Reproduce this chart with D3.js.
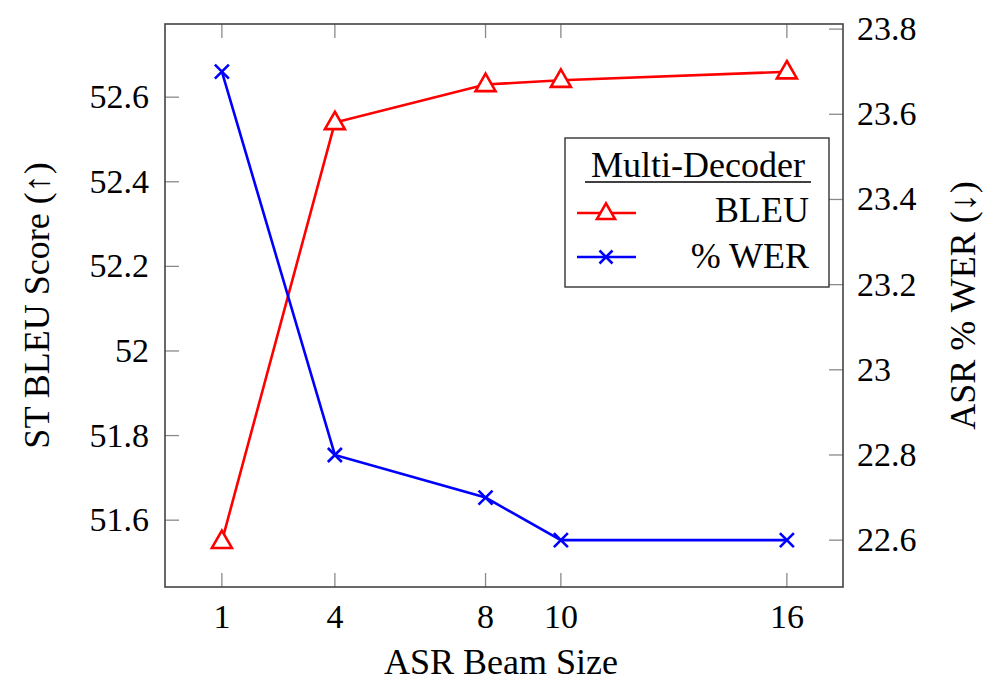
<!DOCTYPE html>
<html>
<head>
<meta charset="utf-8">
<script src="https://cdn.jsdelivr.net/npm/d3@7"></script>
</head>
<body style="margin:0">
<svg id="chart" width="987" height="681"></svg>
<script>
// Beam sizes and results
const beamSizes = [1, 4, 8, 10, 16];
const bleuScores = [51.55, 52.54, 52.63, 52.64, 52.66];
const werScores = [23.7, 22.8, 22.7, 22.6, 22.6];
const leftTicks = [51.6, 51.8, 52.0, 52.2, 52.4, 52.6];
const rightTicks = [22.6, 22.8, 23.0, 23.2, 23.4, 23.6, 23.8];
const leftTickLabels = ["51.6", "51.8", "52", "52.2", "52.4", "52.6"];
const rightTickLabels = ["22.6", "22.8", "23", "23.2", "23.4", "23.6", "23.8"];
const seriesNames = ["BLEU", "% WER"];

const FONT = '"Liberation Serif"';

const svg = d3.select("#chart");
const box = { left: 165, right: 843, top: 24, bottom: 587 };

const x = d3.scaleLinear().domain([-0.51, 17.49]).range([box.left, box.right]);
const yL = d3.scaleLinear().domain([51.442, 52.773]).range([box.bottom, box.top]);
const yR = d3.scaleLinear().domain([22.49, 23.812]).range([box.bottom, box.top]);

const tickColor = "#8a8a8a";
const tickLen = 14;
const tickFont = 34;
const labelFont = 36;

const txt = (parent, size) => parent.append("text")
  .style("font-family", FONT).attr("font-size", size).attr("fill", "#000");

// Ticks (drawn inward, x ticks mirrored on top)
const g = svg.append("g");
beamSizes.forEach(v => {
  g.append("line").attr("x1", x(v)).attr("x2", x(v))
    .attr("y1", box.bottom).attr("y2", box.bottom - tickLen)
    .attr("stroke", tickColor).attr("stroke-width", 1.3);
  g.append("line").attr("x1", x(v)).attr("x2", x(v))
    .attr("y1", box.top).attr("y2", box.top + tickLen)
    .attr("stroke", tickColor).attr("stroke-width", 1.3);
  txt(g, tickFont).attr("x", x(v)).attr("y", 628)
    .attr("text-anchor", "middle").text(v);
});
leftTicks.forEach((v, i) => {
  g.append("line").attr("x1", box.left).attr("x2", box.left + tickLen)
    .attr("y1", yL(v)).attr("y2", yL(v))
    .attr("stroke", tickColor).attr("stroke-width", 1.3);
  txt(g, tickFont).attr("x", 149).attr("y", yL(v) + 11)
    .attr("text-anchor", "end").text(leftTickLabels[i]);
});
rightTicks.forEach((v, i) => {
  g.append("line").attr("x1", box.right).attr("x2", box.right - tickLen)
    .attr("y1", yR(v)).attr("y2", yR(v))
    .attr("stroke", tickColor).attr("stroke-width", 1.3);
  txt(g, tickFont).attr("x", 857).attr("y", yR(v) + 11)
    .attr("text-anchor", "start").text(rightTickLabels[i]);
});

// Frame
svg.append("rect")
  .attr("x", box.left).attr("y", box.top)
  .attr("width", box.right - box.left).attr("height", box.bottom - box.top)
  .attr("fill", "none").attr("stroke", "#444").attr("stroke-width", 1.6);

// Axis titles
txt(svg, labelFont).attr("x", 501).attr("y", 674)
  .attr("text-anchor", "middle").text("ASR Beam Size");
txt(svg, labelFont).attr("transform", `translate(49,${(box.top + box.bottom) / 2}) rotate(-90)`)
  .attr("text-anchor", "middle").text("ST BLEU Score (↑)");
txt(svg, labelFont).attr("transform", `translate(975,${(box.top + box.bottom) / 2}) rotate(-90)`)
  .attr("text-anchor", "middle").text("ASR % WER (↓)");

// Marker shapes
const triPath = (cx, cy, s) => {
  const h = s * 0.87;
  return `M${cx},${cy - h * 0.62} L${cx + s / 2},${cy + h * 0.38} L${cx - s / 2},${cy + h * 0.38} Z`;
};
const crossPath = (cx, cy, r) =>
  `M${cx - r},${cy - r} L${cx + r},${cy + r} M${cx - r},${cy + r} L${cx + r},${cy - r}`;

const red = "#ff0000", blue = "#0000ff";

// BLEU series (left axis)
const bleuData = beamSizes.map((b, i) => [b, bleuScores[i]]);
svg.append("path").datum(bleuData)
  .attr("d", d3.line().x(d => x(d[0])).y(d => yL(d[1])))
  .attr("fill", "none").attr("stroke", red).attr("stroke-width", 2.6);
svg.selectAll(".tri").data(bleuData).join("path").attr("class", "tri")
  .attr("d", d => triPath(x(d[0]), yL(d[1]), 20))
  .attr("fill", "#fff").attr("stroke", red).attr("stroke-width", 2.6);

// WER series (right axis)
const werData = beamSizes.map((b, i) => [b, werScores[i]]);
svg.append("path").datum(werData)
  .attr("d", d3.line().x(d => x(d[0])).y(d => yR(d[1])))
  .attr("fill", "none").attr("stroke", blue).attr("stroke-width", 2.6);
svg.selectAll(".cross").data(werData).join("path").attr("class", "cross")
  .attr("d", d => crossPath(x(d[0]), yR(d[1]), 7))
  .attr("fill", "none").attr("stroke", blue).attr("stroke-width", 2.6);

// Legend
const lg = svg.append("g");
lg.append("rect").attr("x", 565).attr("y", 138).attr("width", 264).attr("height", 149)
  .attr("fill", "#fff").attr("stroke", "#333").attr("stroke-width", 1.4);
txt(lg, labelFont).attr("x", 698).attr("y", 177).attr("text-anchor", "middle")
  .text("Multi-Decoder");
lg.append("line").attr("x1", 585).attr("x2", 811).attr("y1", 182).attr("y2", 182)
  .attr("stroke", "#000").attr("stroke-width", 1.4);
const legendRows = [
  { y: 213, base: 222, color: red, kind: "tri" },
  { y: 257, base: 268, color: blue, kind: "cross" }
];
legendRows.forEach((r, i) => {
  lg.append("line").attr("x1", 577).attr("x2", 636).attr("y1", r.y).attr("y2", r.y)
    .attr("stroke", r.color).attr("stroke-width", 2.6);
  if (r.kind === "tri") {
    lg.append("path").attr("d", triPath(606, r.y, 18))
      .attr("fill", "#fff").attr("stroke", r.color).attr("stroke-width", 2.6);
  } else {
    lg.append("path").attr("d", crossPath(606, r.y, 6.5))
      .attr("fill", "none").attr("stroke", r.color).attr("stroke-width", 2.6);
  }
  txt(lg, labelFont).attr("x", 809).attr("y", r.base).attr("text-anchor", "end")
    .text(seriesNames[i]);
});
</script>
</body>
</html>
